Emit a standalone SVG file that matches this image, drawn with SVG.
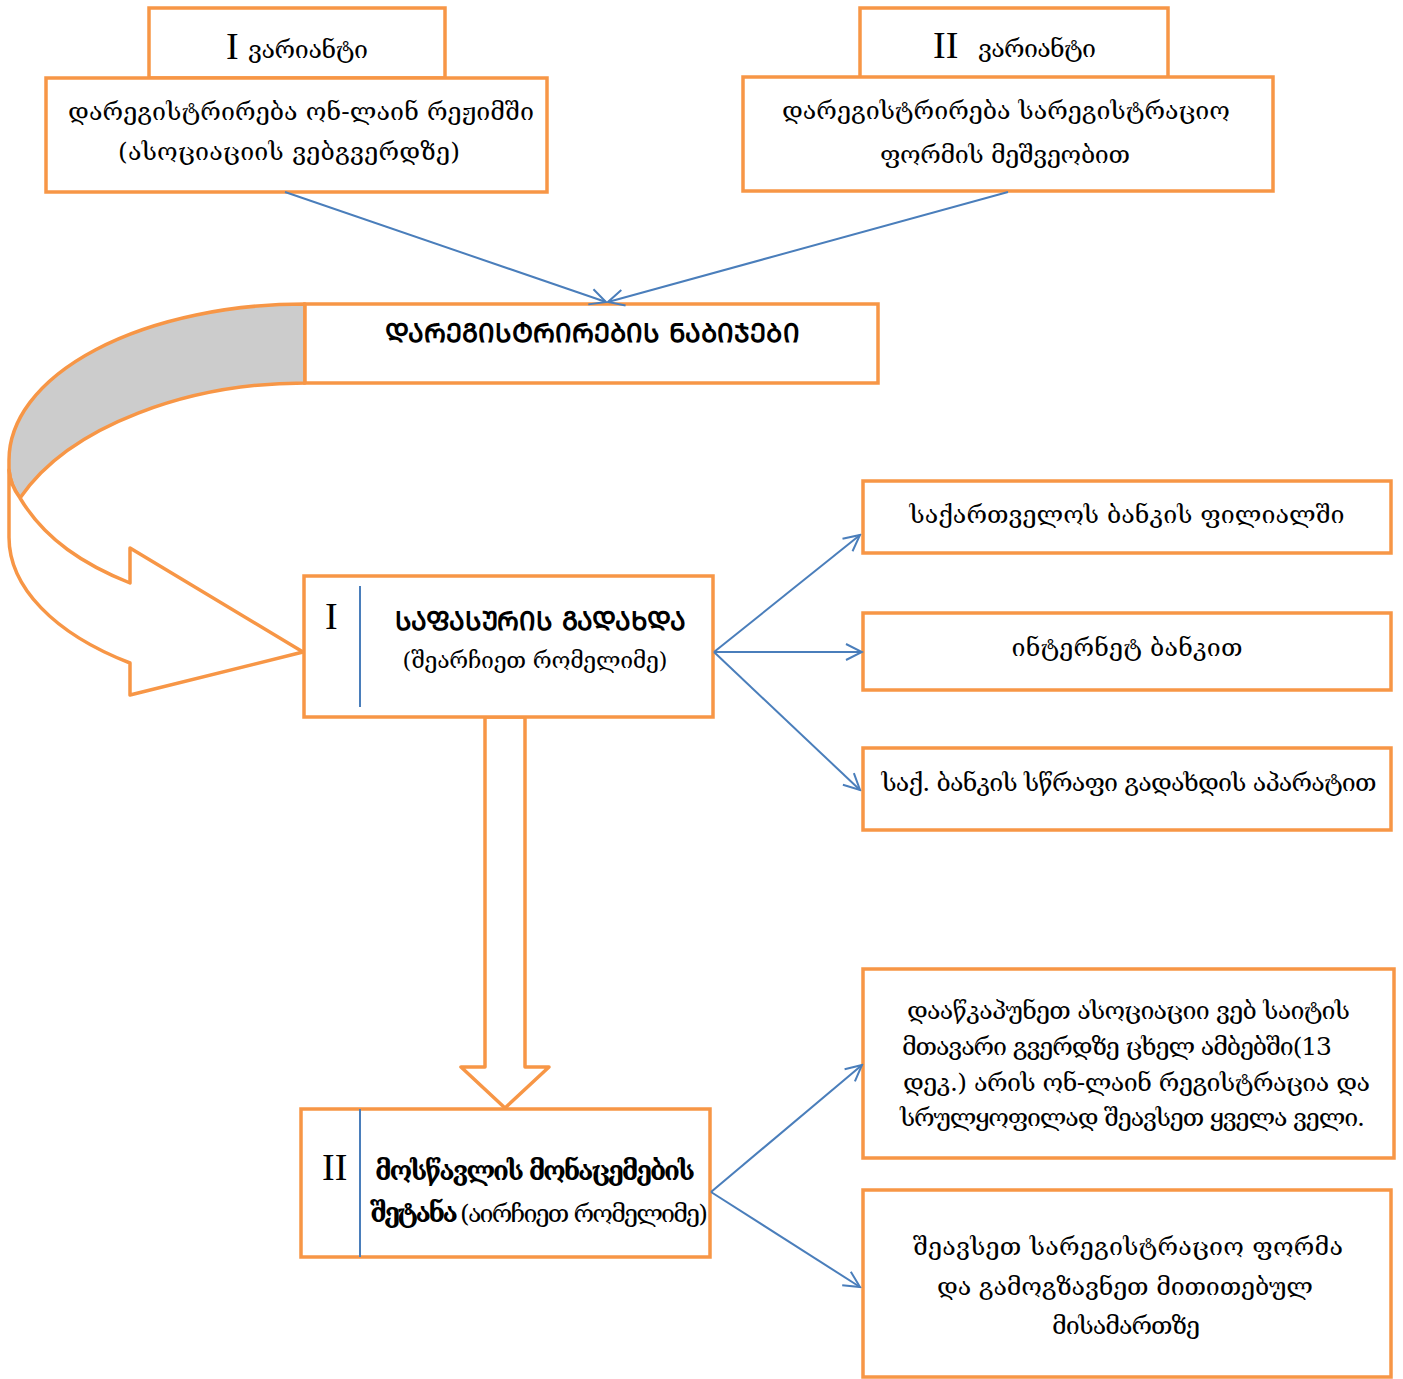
<svg xmlns="http://www.w3.org/2000/svg" width="1403" height="1379" viewBox="0 0 1403 1379">
<style>
.box{fill:#fff;stroke:#F79646;stroke-width:3.5}
.shape{stroke:#F79646;stroke-width:3.5;stroke-linejoin:round}
.ka{font-family:"DejaVu Serif","DejaVu Sans",serif;font-size:25px;fill:#000}
.kb{font-family:"DejaVu Serif","DejaVu Sans",serif;font-size:26px;font-weight:bold;fill:#000}
.sm{font-size:23px}
.rom{font-family:"Liberation Serif",serif;font-size:38px;fill:#000}
.c{text-anchor:middle}
.div{stroke:#4A7EBB;stroke-width:2}
.con{stroke:#4A7EBB;stroke-width:2;fill:none;marker-end:url(#ah)}
</style>
<defs>
<marker id="ah" viewBox="0 0 20 20" refX="18" refY="10" markerWidth="20" markerHeight="20" markerUnits="userSpaceOnUse" orient="auto">
<path d="M2,2 L18,10 L2,18" fill="none" stroke="#4A7EBB" stroke-width="2"/>
</marker>
</defs>
<rect width="1403" height="1379" fill="#fff"/>

<g id="curved-arrow">
<path class="shape" fill="#CCCCCC" d="M305,304 A296 156 0 0 0 9,460 L9,470 C10,482 14,490 20,498 C70,425 190,383 305,383 Z"/>
<path class="shape" fill="#fff" d="M20,498 C45,540 85,565 130,583 L130,548 L303,652 L130,695 L130,663 A296 156 0 0 1 9,537 L9,470 C10,482 14,490 20,498 Z"/>
</g>

<g id="down-arrow">
<polygon class="shape" fill="#fff" points="485,717 525,717 525,1067 549,1067 505,1108 461,1067 485,1067"/>
</g>

<g id="variant1">
<rect class="box" x="149" y="8" width="296" height="70"/>
<text class="rom" x="226" y="59">I</text>
<text class="ka" x="248" y="58" textLength="120">ვარიანტი</text>
<rect class="box" x="46" y="78" width="501" height="114"/>
<text class="ka c" x="301" y="120" textLength="466">დარეგისტრირება ონ-ლაინ რეჟიმში</text>
<text class="ka c" x="289" y="160" textLength="342">(ასოციაციის ვებგვერდზე)</text>
</g>

<g id="variant2">
<rect class="box" x="860" y="8" width="308" height="70"/>
<text class="rom" x="933" y="58">II</text>
<text class="ka" x="978" y="57" textLength="118">ვარიანტი</text>
<rect class="box" x="743" y="77" width="530" height="114"/>
<text class="ka c" x="1006" y="119" textLength="448">დარეგისტრირება სარეგისტრაციო</text>
<text class="ka c" x="1005" y="163" textLength="250">ფორმის მეშვეობით</text>
</g>

<g id="steps">
<rect class="box" x="305" y="304" width="573" height="79"/>
<text class="kb c" x="592" y="342" textLength="415">ᲓᲐᲠᲔᲒᲘᲡᲢᲠᲘᲠᲔᲑᲘᲡ ᲜᲐᲑᲘᲯᲔᲑᲘ</text>
</g>

<g id="payment">
<rect class="box" x="304" y="576" width="409" height="141"/>
<line class="div" x1="360" y1="586" x2="360" y2="707"/>
<text class="rom" x="325" y="629">I</text>
<text class="kb c" x="540" y="630" textLength="291">ᲡᲐᲤᲐᲡᲣᲠᲘᲡ ᲒᲐᲓᲐᲮᲓᲐ</text>
<text class="ka c sm" x="535" y="668" textLength="265">(შეარჩიეთ რომელიმე)</text>
</g>

<g id="pay-branch">
<rect class="box" x="863" y="481" width="528" height="72"/>
<text class="ka c" x="1127" y="523" textLength="435">საქართველოს ბანკის ფილიალში</text>
</g>
<g id="pay-internet">
<rect class="box" x="863" y="613" width="528" height="77"/>
<text class="ka c" x="1127" y="656" textLength="231">ინტერნეტ ბანკით</text>
</g>
<g id="pay-terminal">
<rect class="box" x="863" y="748" width="528" height="82"/>
<text class="ka c" x="1129" y="791" textLength="495" font-size="24">საქ. ბანკის სწრაფი გადახდის აპარატით</text>
</g>

<g id="student-data">
<rect class="box" x="301" y="1109" width="409" height="148"/>
<line class="div" x1="360" y1="1109" x2="360" y2="1257"/>
<text class="rom" x="322" y="1180">II</text>
<text class="kb c" x="535" y="1180" textLength="320" font-size="24">მოსწავლის მონაცემების</text>
<text class="kb" x="370" y="1222" textLength="88" font-size="21">შეტანა</text>
<text class="ka" x="460" y="1222" textLength="248" font-size="22">(აირჩიეთ რომელიმე)</text>
</g>

<g id="online">
<rect class="box" x="863" y="969" width="531" height="189"/>
<text class="ka" x="907" y="1019" textLength="443" font-size="24">დააწკაპუნეთ ასოციაციი ვებ საიტის</text>
<text class="ka" x="902" y="1055" textLength="430" font-size="24">მთავარი გვერდზე ცხელ ამბებში(13</text>
<text class="ka" x="903" y="1091" textLength="467" font-size="24">დეკ.) არის ონ-ლაინ რეგისტრაცია და</text>
<text class="ka" x="900" y="1126" textLength="465" font-size="24">სრულყოფილად შეავსეთ ყველა ველი.</text>
</g>

<g id="form">
<rect class="box" x="863" y="1190" width="528" height="187"/>
<text class="ka c" x="1128" y="1255" textLength="430">შეავსეთ სარეგისტრაციო ფორმა</text>
<text class="ka c" x="1125" y="1295" textLength="376">და გამოგზავნეთ მითითებულ</text>
<text class="ka c" x="1126" y="1334" textLength="148">მისამართზე</text>
</g>

<g id="connectors">
<path class="con" d="M285,192 L606,302"/>
<path class="con" d="M1008,192 L608,302"/>
<path class="con" d="M714,652 L860,535"/>
<path class="con" d="M714,652 L862,652"/>
<path class="con" d="M714,652 L860,790"/>
<path class="con" d="M711,1192 L862,1065"/>
<path class="con" d="M711,1192 L860,1287"/>
</g>
</svg>
